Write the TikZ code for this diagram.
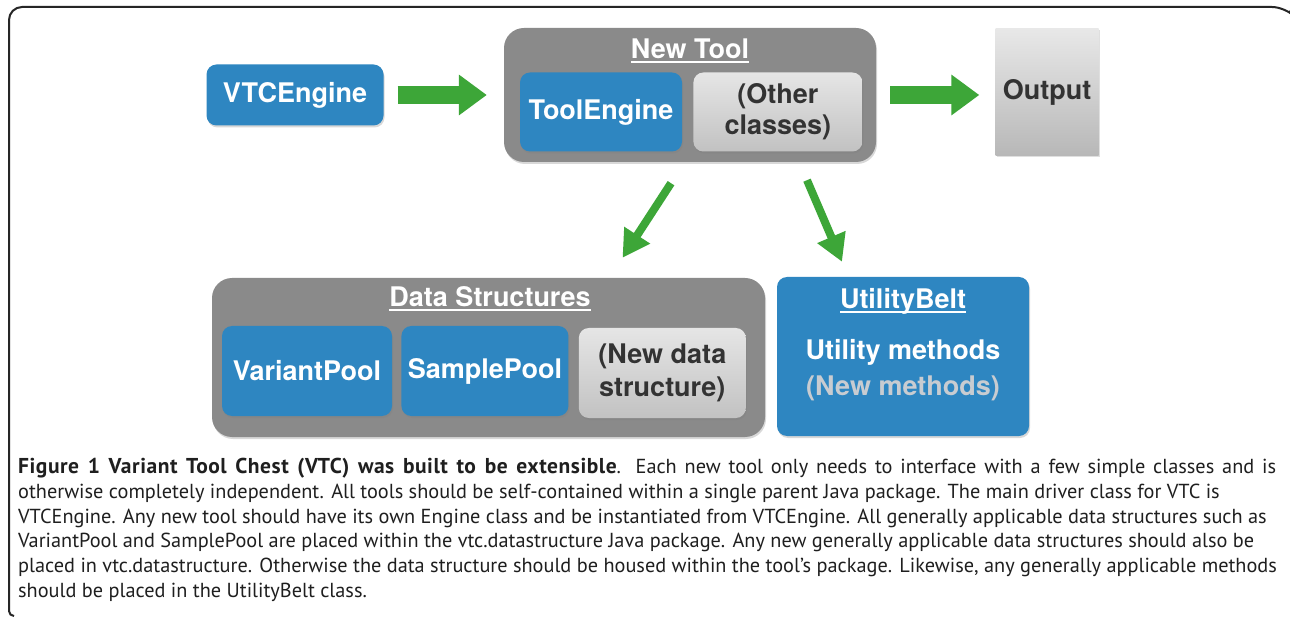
\documentclass[tikz,border=0pt]{standalone}
\usepackage{fontspec}
\newfontfamily\boxfont{TeX Gyre Heros}
\newfontfamily\capfont{PT Sans}
\usetikzlibrary{arrows.meta,positioning,shadows}

\definecolor{vtcblue}{HTML}{2E86C1}
\definecolor{groupgrey}{HTML}{8A8A8A}
\definecolor{arrowgreen}{HTML}{3DA638}
\definecolor{darktext}{HTML}{333333}
\definecolor{paletext}{HTML}{C8CCD1}

% underlined heading with a thicker rule
\newcommand{\titleline}[1]{\setbox0\hbox{#1}\rlap{\rule[-4.5pt]{\wd0}{1.8pt}}\box0}

\tikzset{
  boxtext/.style={font=\boxfont\bfseries\fontsize{27}{32}\selectfont, align=center, inner sep=0pt},
  classbox/.style={boxtext, fill=vtcblue, text=white, rounded corners=10pt,
    drop shadow={shadow xshift=1pt, shadow yshift=-2pt, opacity=.3}},
  newbox/.style={boxtext, top color=black!10, bottom color=black!24, text=darktext, rounded corners=10pt,
    drop shadow={shadow xshift=1pt, shadow yshift=-2pt, opacity=.3}},
  outbox/.style={boxtext, top color=black!9, bottom color=black!28, text=darktext,
    drop shadow={shadow xshift=1pt, shadow yshift=-2pt, opacity=.25}},
  groupbox/.style={fill=groupgrey, rounded corners=20pt,
    drop shadow={shadow xshift=1pt, shadow yshift=-2pt, opacity=.3}},
  heading/.style={boxtext, text=white},
  flow/.style={arrowgreen, line width=18pt, -{Triangle[length=28pt,width=39pt]}},
  branch/.style={arrowgreen, line width=8pt, -{Triangle[length=27pt,width=29pt]}},
  caption/.style={font=\capfont\fontsize{20.3}{24.8}\selectfont, align=left, inner sep=0pt, text=black!88}
}

\begin{document}
\begin{tikzpicture}[x=1pt,y=-1pt]
  \fill[white] (0,0) rectangle (1290,617);
  \useasboundingbox (0,0) rectangle (1290,617);

  % outer frame
  \draw[line width=2pt, black!85] (14,616) [rounded corners=5pt] -| (9,300)
        [rounded corners=13pt] |- (1285,7) [sharp corners] -- (1289,11);

  % top row
  \node[classbox, minimum width=177pt, minimum height=61pt] (vtc) at (295,95) {VTCEngine};
  \node[groupbox, minimum width=372pt, minimum height=134pt] (tool) at (690,95) {};
  \node[heading] (tooltitle) at (690,51) {\titleline{New Tool}};
  \node[classbox, minimum width=162pt, minimum height=79pt] (toolengine) at (601,112) {ToolEngine};
  \node[newbox, minimum width=169pt, minimum height=79pt, right=11pt of toolengine,
        font=\boxfont\bfseries\fontsize{27}{31}\selectfont] (other) {(Other\\classes)};
  \node[outbox, minimum width=103pt, minimum height=127pt] (output) at (1047,92) {Output};

  % bottom row
  \node[groupbox, minimum width=553pt, minimum height=159pt] (ds) at (488.5,357.5) {};
  \node[heading] (dstitle) at (490,299) {\titleline{Data Structures}};
  \node[classbox, minimum width=170pt, minimum height=90pt] (variant) at (307,371) {VariantPool};
  \node[classbox, minimum width=167pt, minimum height=90pt, right=9pt of variant] (sample) {SamplePool};
  \node[newbox, minimum width=167pt, minimum height=90pt, right=10pt of sample, yshift=-2pt,
        font=\boxfont\bfseries\fontsize{27}{33}\selectfont] (newds) {(New data\\structure)};

  \node[classbox, minimum width=252pt, minimum height=159pt] (util) at (903,356.5) {};
  \node[heading] (utiltitle) at (903,301) {\titleline{UtilityBelt}};
  \node[heading, font=\boxfont\bfseries\fontsize{27}{36}\selectfont] (utilbody) at (903,370)
        {Utility methods\\{\color{paletext}(New methods)}};

  % arrows
  \draw[flow] ([xshift=14pt]vtc.east) -- ([xshift=-17pt]tool.west);
  \draw[flow] ([xshift=14pt]tool.east) -- ([xshift=-16pt]output.west |- tool.east);
  \draw[branch] ([shift={(-19,21)}]tool.south) -- ([shift={(134,-20)}]ds.north);
  \draw[branch] ([shift={(117,18)}]tool.south) -- ([shift={(-61,-15)}]util.north);

  % caption
  \node[caption, anchor=north west] (cap) at (18,458) {%
    \makebox[1258pt][s]{{\bfseries\fontsize{21.5}{24.8}\selectfont\addfontfeature{LetterSpace=2.5}Figure 1 Variant Tool Chest (VTC) was built to be extensible}. Each new tool only needs to interface with a few simple classes and is}\\
    otherwise completely independent. All tools should be self-contained within a single parent Java package. The main driver class for VTC is\\
    VTCEngine. Any new tool should have its own Engine class and be instantiated from VTCEngine. All generally applicable data structures such as\\
    VariantPool and SamplePool are placed within the vtc.datastructure Java package. Any new generally applicable data structures should also be\\
    placed in vtc.datastructure. Otherwise the data structure should be housed within the tool’s package. Likewise, any generally applicable methods\\
    should be placed in the UtilityBelt class.};
\end{tikzpicture}
\end{document}
